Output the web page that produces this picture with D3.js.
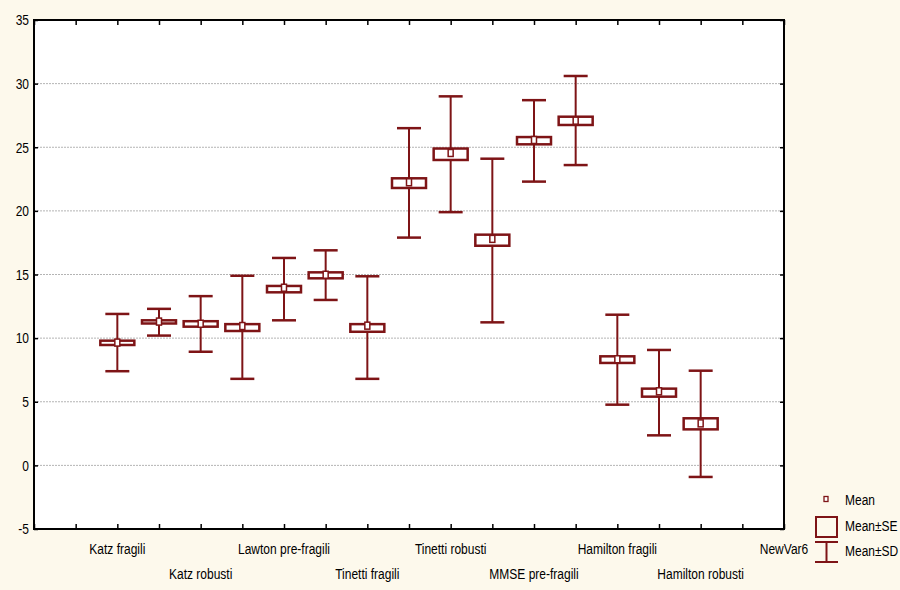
<!DOCTYPE html>
<html>
<head>
<meta charset="utf-8">
<script src="https://cdn.jsdelivr.net/npm/d3@7"></script>
<style>
body { margin: 0; background: #fdf9ec; }
svg text { font-family: "Liberation Sans", Arial, sans-serif; font-size: 15px; fill: #000; }
</style>
</head>
<body>
<script>
// axis slots (19 positions, labels on even slots only)
var slotLabels = ["", "", "Katz fragili", "Katz pre-fragili", "Katz robusti", "Lawton fragili",
	"Lawton pre-fragili", "Lawton robusti", "Tinetti fragili", "Tinetti pre-fragili", "Tinetti robusti",
	"MMSE fragili", "MMSE pre-fragili", "MMSE robusti", "Hamilton fragili", "Hamilton pre-fragili",
	"Hamilton robusti", "", "NewVar6"];

// one entry per group, groups sit on slots 2..16
var groupSlots = [2, 3, 4, 5, 6, 7, 8, 9, 10, 11, 12, 13, 14, 15, 16];
var means  = [9.65, 11.3, 11.13, 10.95, 13.96, 14.98, 10.98, 22.25, 24.55, 17.8, 25.57, 27.09, 8.34, 5.82, 3.3];
var seLow  = [9.46, 11.15, 10.9, 10.56, 13.6, 14.7, 10.5, 21.8, 24.0, 17.26, 25.23, 26.75, 8.05, 5.4, 2.83];
var seHigh = [9.8, 11.4, 11.33, 11.1, 14.1, 15.17, 11.1, 22.56, 24.9, 18.13, 25.8, 27.4, 8.57, 6.03, 3.7];
var sdLow  = [7.4, 10.2, 8.93, 6.8, 11.4, 13.0, 6.8, 17.9, 19.9, 11.24, 22.3, 23.6, 4.77, 2.36, -0.91];
var sdHigh = [11.9, 12.3, 13.3, 14.9, 16.3, 16.9, 14.86, 26.5, 29.0, 24.1, 28.7, 30.6, 11.84, 9.07, 7.44];

var yTicks = [-5, 0, 5, 10, 15, 20, 25, 30, 35];

var W = 900, H = 590;
var MARGIN = { LEFT: 34, RIGHT: 116, TOP: 20, BOTTOM: 61 };
var RED = "#7e1416";
var NARROW = 0.8;

var svg = d3.select("body").append("svg").attr("width", W).attr("height", H);

const xScale = d3.scaleLinear().domain([0, slotLabels.length - 1]).range([MARGIN.LEFT, W - MARGIN.RIGHT]);
const yScale = d3.scaleLinear().domain([-5, 35]).range([H - MARGIN.BOTTOM, MARGIN.TOP]);

// condensed text, like the narrow font of the original
function narrowText(parent, x, y, anchor, str) {
	return parent.append("text")
		.attr("transform", "translate(" + x + "," + y + ") scale(" + NARROW + ",1)")
		.attr("dy", "0.35em")
		.attr("text-anchor", anchor)
		.text(str);
}

// plot background
svg.append("rect")
	.attr("x", MARGIN.LEFT).attr("y", MARGIN.TOP)
	.attr("width", xScale.range()[1] - xScale.range()[0])
	.attr("height", yScale.range()[0] - yScale.range()[1])
	.attr("fill", "#fff");

// dashed grid
svg.append("g").selectAll("line")
	.data(yTicks.slice(1, -1))
	.enter().append("line")
	.attr("x1", MARGIN.LEFT).attr("x2", W - MARGIN.RIGHT)
	.attr("y1", d => yScale(d)).attr("y2", d => yScale(d))
	.attr("stroke", "#b4b4b4").attr("stroke-width", 1).attr("stroke-dasharray", "2,1");

// axes with inward ticks
var slots = d3.range(slotLabels.length);
svg.append("g").attr("class", "xaxis")
	.attr("transform", "translate(0," + yScale(-5) + ")")
	.call(d3.axisTop(xScale).tickValues(slots).tickSize(5).tickFormat(""));
svg.append("g").attr("class", "xaxis-top")
	.attr("transform", "translate(0," + yScale(35) + ")")
	.call(d3.axisBottom(xScale).tickValues(slots).tickSize(5).tickFormat(""));
svg.append("g").attr("class", "yaxis")
	.attr("transform", "translate(" + MARGIN.LEFT + ",0)")
	.call(d3.axisRight(yScale).tickValues(yTicks).tickSize(4).tickFormat(""));
svg.append("g").attr("class", "yaxis-right")
	.attr("transform", "translate(" + (W - MARGIN.RIGHT) + ",0)")
	.call(d3.axisLeft(yScale).tickValues(yTicks).tickSize(4).tickFormat(""));
svg.selectAll(".xaxis path, .xaxis-top path, .yaxis path, .yaxis-right path").remove();
svg.selectAll(".xaxis line, .xaxis-top line, .yaxis line, .yaxis-right line")
	.attr("stroke", "#000").attr("stroke-width", 1.5);

// frame
svg.append("rect")
	.attr("x", MARGIN.LEFT).attr("y", MARGIN.TOP)
	.attr("width", xScale.range()[1] - xScale.range()[0])
	.attr("height", yScale.range()[0] - yScale.range()[1])
	.attr("fill", "none").attr("stroke", "#000").attr("stroke-width", 2);

// y labels
var yLab = svg.append("g");
yTicks.forEach(function (d) {
	narrowText(yLab, MARGIN.LEFT - 5, yScale(d), "end", d);
});

// x labels, alternating rows
var xLab = svg.append("g");
slots.filter(i => i % 2 == 0 && slotLabels[i] != "").forEach(function (d) {
	narrowText(xLab, xScale(d), (d % 4 == 2) ? 549 : 574, "middle", slotLabels[d]);
});

// whiskers and boxes
var groups = svg.append("g").selectAll("g")
	.data(groupSlots)
	.enter().append("g");

var capW = 12, boxW = 17;
groups.append("line")
	.attr("x1", d => xScale(d)).attr("x2", d => xScale(d))
	.attr("y1", (d, i) => yScale(sdLow[i])).attr("y2", (d, i) => yScale(sdHigh[i]))
	.attr("stroke", RED).attr("stroke-width", 2);
groups.append("line")
	.attr("x1", d => xScale(d) - capW).attr("x2", d => xScale(d) + capW)
	.attr("y1", (d, i) => yScale(sdHigh[i])).attr("y2", (d, i) => yScale(sdHigh[i]))
	.attr("stroke", RED).attr("stroke-width", 2.5);
groups.append("line")
	.attr("x1", d => xScale(d) - capW).attr("x2", d => xScale(d) + capW)
	.attr("y1", (d, i) => yScale(sdLow[i])).attr("y2", (d, i) => yScale(sdLow[i]))
	.attr("stroke", RED).attr("stroke-width", 2.5);
groups.append("rect")
	.attr("x", d => xScale(d) - boxW)
	.attr("y", (d, i) => yScale(seHigh[i]))
	.attr("width", boxW * 2)
	.attr("height", (d, i) => yScale(seLow[i]) - yScale(seHigh[i]))
	.attr("fill", "#fff").attr("stroke", RED).attr("stroke-width", 2.5);
groups.append("rect")
	.attr("x", d => xScale(d) - 2.5)
	.attr("y", (d, i) => yScale(means[i]) - 3.5)
	.attr("width", 5).attr("height", 7)
	.attr("fill", "#fff").attr("stroke", RED).attr("stroke-width", 1.5);

// legend
var legend = svg.append("g");
legend.append("rect").attr("x", 824).attr("y", 496.5).attr("width", 4).attr("height", 5)
	.attr("fill", "#fff").attr("stroke", RED).attr("stroke-width", 1.3);
narrowText(legend, 845, 500, "start", "Mean");
legend.append("rect").attr("x", 816).attr("y", 517).attr("width", 21).attr("height", 20)
	.attr("fill", "none").attr("stroke", RED).attr("stroke-width", 2);
narrowText(legend, 845, 526, "start", "Mean\u00B1SE");
legend.append("line").attr("x1", 815).attr("x2", 838).attr("y1", 542).attr("y2", 542).attr("stroke", RED).attr("stroke-width", 2);
legend.append("line").attr("x1", 815).attr("x2", 838).attr("y1", 562).attr("y2", 562).attr("stroke", RED).attr("stroke-width", 2);
legend.append("line").attr("x1", 826.5).attr("x2", 826.5).attr("y1", 542).attr("y2", 562).attr("stroke", RED).attr("stroke-width", 2);
narrowText(legend, 845, 551, "start", "Mean\u00B1SD");
</script>
</body>
</html>
